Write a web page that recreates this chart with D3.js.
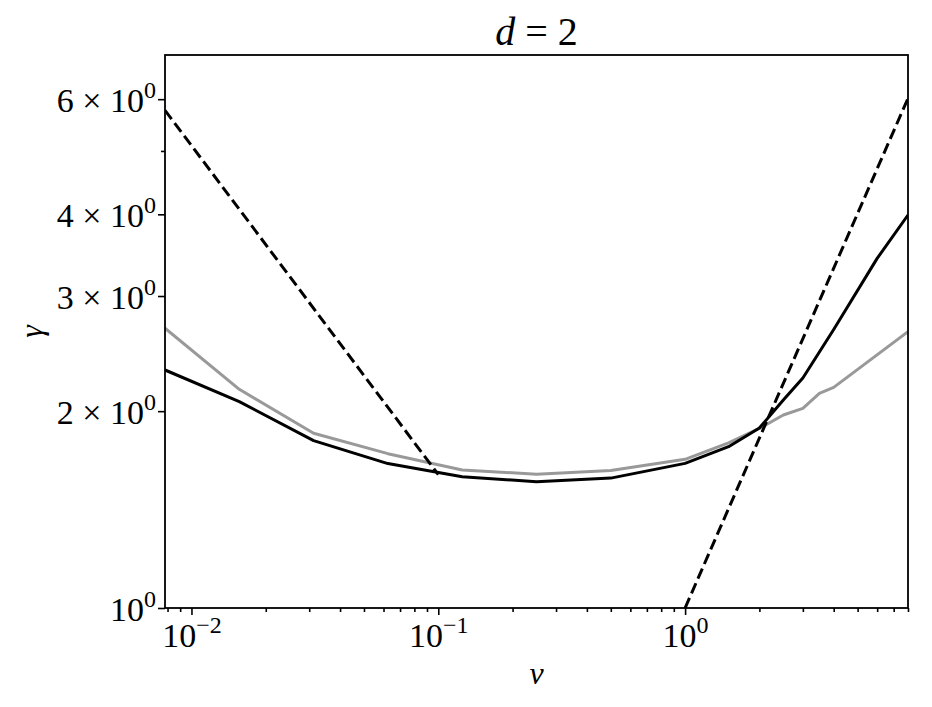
<!DOCTYPE html>
<html>
<head>
<meta charset="utf-8">
<script src="https://cdn.jsdelivr.net/npm/d3@7"></script>
<style>
  html, body { margin: 0; padding: 0; background: #fff; }
  svg { display: block; }
  text { font-family: "Liberation Serif", "DejaVu Serif", serif; fill: #000; }
</style>
</head>
<body>
<svg id="chart" width="932" height="707"></svg>
<script>
// ---- data ----
const titleText = ["d", " = 2"];
const xLabel = "ν";
const yLabel = "γ";

const blackNu    = [0.0078125, 0.015625, 0.03125, 0.0625, 0.125, 0.25, 0.5, 1, 1.5, 2, 2.5, 3, 4, 6, 8];
const blackGamma = [2.312, 2.068, 1.803, 1.663, 1.588, 1.560, 1.580, 1.664, 1.765, 1.885, 2.08, 2.248, 2.666, 3.425, 3.99];

const grayNu    = [0.0078125, 0.015625, 0.03125, 0.0625, 0.125, 0.25, 0.5, 1, 1.5, 2, 2.5, 3, 3.5, 4, 8];
const grayGamma = [2.678, 2.160, 1.850, 1.722, 1.626, 1.602, 1.623, 1.688, 1.789, 1.882, 1.973, 2.020, 2.130, 2.175, 2.646];

const dashLeftNu = [0.0078125, 0.1];
const dashLeftGamma = [5.77, 1.60];
const dashRightNu = [1, 8];
const dashRightGamma = [1.0, 6.02];

const xMajorTicks = [0.01, 0.1, 1];
const xMajorExp = ["−2", "−1", "0"];
const xMinorTicks = [0.008, 0.009,
  0.02, 0.03, 0.04, 0.05, 0.06, 0.07, 0.08, 0.09,
  0.2, 0.3, 0.4, 0.5, 0.6, 0.7, 0.8, 0.9,
  2, 3, 4, 5, 6, 7, 8];
const yLabeledTicks = [1, 2, 3, 4, 6];
const yTickMantissa = ["", "2", "3", "4", "6"];
const yMinorUnlabeled = [5];

const xDomain = [0.0078125, 8];
const yDomain = [1, 7.01];

// ---- layout ----
const W = 932, H = 707;
const m = { left: 165, right: 24, top: 55, bottom: 99 };
const iw = W - m.left - m.right, ih = H - m.top - m.bottom;

const svg = d3.select("#chart");
const g = svg.append("g").attr("transform", `translate(${m.left},${m.top})`);

const x = d3.scaleLog().domain(xDomain).range([0, iw]);
const y = d3.scaleLog().domain(yDomain).range([ih, 0]);

svg.append("defs").append("clipPath").attr("id", "clip")
  .append("rect").attr("width", iw).attr("height", ih);

const line = d3.line().x(d => x(d[0])).y(d => y(d[1]));
const zip = (a, b) => a.map((v, i) => [v, b[i]]);

const plot = g.append("g").attr("clip-path", "url(#clip)");
plot.append("path").datum(zip(grayNu, grayGamma))
  .attr("d", line).attr("fill", "none").attr("stroke", "#999999")
  .attr("stroke-width", 3).attr("stroke-linejoin", "round");
plot.append("path").datum(zip(blackNu, blackGamma))
  .attr("d", line).attr("fill", "none").attr("stroke", "#000")
  .attr("stroke-width", 3).attr("stroke-linejoin", "round");
[zip(dashLeftNu, dashLeftGamma), zip(dashRightNu, dashRightGamma)].forEach(dd => {
  plot.append("path").datum(dd)
    .attr("d", line).attr("fill", "none").attr("stroke", "#000")
    .attr("stroke-width", 3).attr("stroke-dasharray", "11,5");
});

// ---- axes ----
const tickFont = 34;
const supFont = 24;
// x minor ticks
const xMinorAxis = d3.axisBottom(x).tickValues(xMinorTicks).tickSize(4).tickFormat("");
const xMinorG = g.append("g").attr("transform", `translate(0,${ih})`).call(xMinorAxis);
// x major ticks
const xMajorAxis = d3.axisBottom(x).tickValues(xMajorTicks).tickSize(7).tickFormat("");
const xMajorG = g.append("g").attr("transform", `translate(0,${ih})`).call(xMajorAxis);
xMajorG.selectAll(".tick").each(function(d, i) {
  const t = d3.select(this).append("text")
    .attr("y", 39).attr("text-anchor", "middle")
    .style("font-size", tickFont + "px");
  t.append("tspan").text("10");
  t.append("tspan").attr("dy", -14).style("font-size", supFont + "px").text(xMajorExp[i]);
});
// y ticks
const yMinorAxis = d3.axisLeft(y).tickValues(yMinorUnlabeled).tickSize(4).tickFormat("");
const yMinorG = g.append("g").call(yMinorAxis);
const yAxis = d3.axisLeft(y).tickValues(yLabeledTicks).tickSize(7).tickFormat("");
const yG = g.append("g").call(yAxis);
yG.selectAll(".tick").each(function(d, i) {
  const t = d3.select(this).append("text")
    .attr("x", -9).attr("y", 12).attr("text-anchor", "end")
    .style("font-size", tickFont + "px");
  if (yTickMantissa[i]) t.append("tspan").text(yTickMantissa[i] + " × ");
  t.append("tspan").text("10");
  t.append("tspan").attr("dy", -14).style("font-size", supFont + "px").text("0");
});

[xMinorG, xMajorG, yMinorG, yG].forEach(a => {
  a.select(".domain").remove();
  a.selectAll(".tick line").attr("stroke", "#000").attr("stroke-width", 1.6);
});

// frame
g.append("rect").attr("width", iw).attr("height", ih)
  .attr("fill", "none").attr("stroke", "#000").attr("stroke-width", 1.8);

// ---- labels ----
const title = svg.append("text").attr("x", m.left + iw / 2).attr("y", 45)
  .attr("text-anchor", "middle").style("font-size", "40px");
title.append("tspan").style("font-style", "italic").text(titleText[0]);
title.append("tspan").text(titleText[1]);

svg.append("text").attr("x", m.left + iw / 2).attr("y", 684)
  .attr("text-anchor", "middle").style("font-size", "32px").style("font-style", "italic")
  .text(xLabel);

svg.append("text").attr("transform", `translate(42,${m.top + ih / 2}) rotate(-90)`)
  .attr("text-anchor", "middle").style("font-size", "32px").style("font-style", "italic")
  .text(yLabel);
</script>
</body>
</html>
